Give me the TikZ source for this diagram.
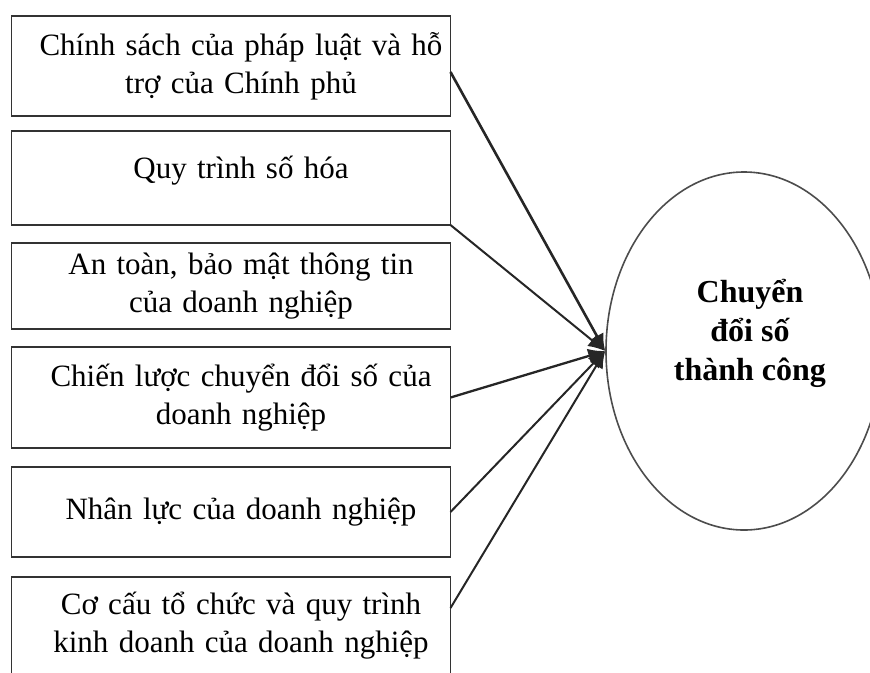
\documentclass[tikz,border=0pt]{standalone}
\usepackage{fontspec}
\setmainfont{Liberation Serif}
\usetikzlibrary{shapes.geometric, arrows.meta, positioning}
\tikzset{factor/.style={rectangle, draw=black!80, line width=1.8pt, outer sep=0pt, minimum width=439pt, text width=434pt, align=center, inner sep=0pt, execute at begin node={\leftskip=20pt plus 1fil\rightskip=0pt plus 1fil\parfillskip=0pt\relax}, font=\fontsize{31}{38}\selectfont}}
\tikzset{link/.style={draw=black!85, line width=2pt, -{Latex[length=17pt,width=15pt]}}}

\begin{document}
\begin{tikzpicture}[x=1pt, y=-1pt, node distance=17pt]
  \useasboundingbox (0,0) rectangle (870,672);
  \clip (0,0) rectangle (870,672);
  \node (f1) [factor, minimum height=100pt] at (231,66) {Chính sách của pháp luật và hỗ\\trợ của Chính phủ};
  \node (f2) [factor, minimum height=94pt, text depth=22pt, below=15pt of f1] {Quy trình số hóa};
  \node (f3) [factor, minimum height=86pt, below=18pt of f2] {An toàn, bảo mật thông tin\\của doanh nghiệp};
  \node (f4) [factor, minimum height=101pt, below=18pt of f3] {Chiến lược chuyển đổi số của\\doanh nghiệp};
  \node (f5) [factor, minimum height=90pt, below=19pt of f4] {Nhân lực của doanh nghiệp};
  \node (f6) [factor, minimum height=98pt, below=20pt of f5] {Cơ cấu tổ chức và quy trình\\kinh doanh của doanh nghiệp};
  \node (goal) [ellipse, draw=black!70, line width=1.6pt, minimum width=276pt, minimum height=358pt, inner sep=0pt] at (744,351) {};
  \node (goaltext) [align=center, font=\fontsize{32}{39}\selectfont\bfseries] at (750,333) {Chuyển\\đổi số\\thành công};
  \draw [link, line width=2.6pt] ([yshift=-6pt]f1.east) -- (goal.west);
  \draw [link] (f2.south east) -- (goal.west);
  \draw [link, line width=2.3pt] (f4.east) -- (goal.west);
  \draw [link] (f5.east) -- (goal.west);
  \draw [link] ([yshift=-31pt]f6.north east) -- (goal.west);
\end{tikzpicture}
\end{document}
